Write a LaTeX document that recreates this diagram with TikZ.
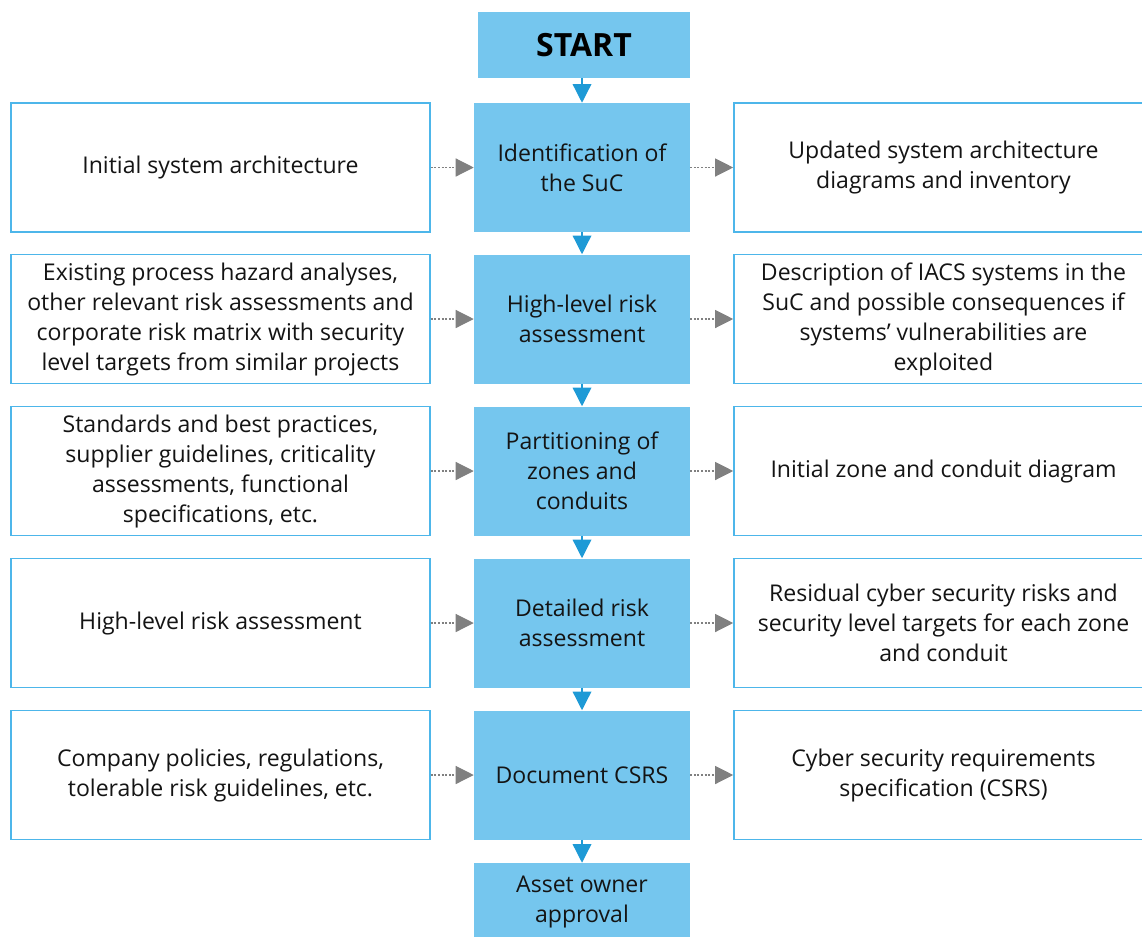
\documentclass[tikz,border=0pt]{standalone}
\usepackage{fontspec}
\setmainfont{Open Sans}
\usetikzlibrary{arrows.meta}
\definecolor{boxfill}{HTML}{75C6EE}
\definecolor{boxline}{HTML}{4DB6EA}
\definecolor{flowblue}{HTML}{1E9AD6}
\definecolor{feedgray}{HTML}{808080}
\begin{document}
\begin{tikzpicture}[x=0.75pt,y=-0.75pt,
  txt/.style={font=\fontsize{17.3}{22.5}\selectfont, align=center, text=black!92},
  stepbox/.style={txt, fill=boxfill, draw=none, minimum width=216*0.75pt, minimum height=129*0.75pt, inner sep=0pt},
  sidebox/.style={txt, fill=white, draw=boxline, line width=1.2pt, minimum width=419*0.75pt, minimum height=129*0.75pt, inner sep=0pt},
  flow/.style={draw=flowblue, line width=1pt, -{Triangle[length=14pt,width=14pt]}, color=flowblue},
  feed/.style={draw=feedgray, line width=0.9pt, dash pattern=on 1.5pt off 1.2pt, -{Triangle[length=13.5pt,width=13.5pt]}, color=feedgray}]
\useasboundingbox (0,0) rectangle (1142,936);
\clip (0,0) rectangle (1142,936);

% main process column
\node[stepbox, minimum width=212*0.75pt, minimum height=66*0.75pt, font=\fontsize{24}{26}\selectfont\bfseries, text=black] (start) at (584,45) {START};
\node[stepbox] (s1) at (582,167.5) {Identification of\\the SuC};
\node[stepbox] (s2) at (582,319) {High-level risk\\assessment};
\node[stepbox] (s3) at (582,471) {Partitioning of\\zones and\\conduits};
\node[stepbox] (s4) at (582,623) {Detailed risk\\assessment};
\node[stepbox] (s5) at (582,775) {Document CSRS};
\node[stepbox] (s6) at (582,927.5) {};
\node[txt, anchor=north] (s6t) at (582,871) {Asset owner\\approval};

% inputs
\node[sidebox] (i1) at (220.5,167.5) {Initial system architecture};
\node[sidebox] (i2) at (220.5,319) {Existing process hazard analyses,\\other relevant risk assessments and\\corporate risk matrix with security\\level targets from similar projects};
\node[sidebox] (i3) at (220.5,471) {Standards and best practices,\\supplier guidelines, criticality\\assessments, functional\\specifications, etc.};
\node[sidebox] (i4) at (220.5,623) {High-level risk assessment};
\node[sidebox] (i5) at (220.5,775) {Company policies, regulations,\\tolerable risk guidelines, etc.};

% outputs
\node[sidebox] (o1) at (943.5,167.5) {Updated system architecture\\diagrams and inventory};
\node[sidebox] (o2) at (943.5,319) {Description of IACS systems in the\\SuC and possible consequences if\\systems' vulnerabilities are\\exploited};
\node[sidebox] (o3) at (943.5,471) {Initial zone and conduit diagram};
\node[sidebox] (o4) at (943.5,623) {Residual cyber security risks and\\security level targets for each zone\\and conduit};
\node[sidebox] (o5) at (943.5,775) {Cyber security requirements\\specification (CSRS)};

% flow arrows
\draw[flow] (start.south -| s1.north) -- (s1.north);
\draw[flow] (s1) -- (s2);
\draw[flow] (s2) -- (s3);
\draw[flow] (s3) -- (s4);
\draw[flow] (s4) -- (s5);
\draw[flow] (s5) -- (s6);

% inputs and outputs
\foreach \k in {1,...,5}{
  \draw[feed] (i\k.east) -- (s\k.west);
  \draw[feed] (s\k.east) -- (o\k.west);
}
\end{tikzpicture}
\end{document}
